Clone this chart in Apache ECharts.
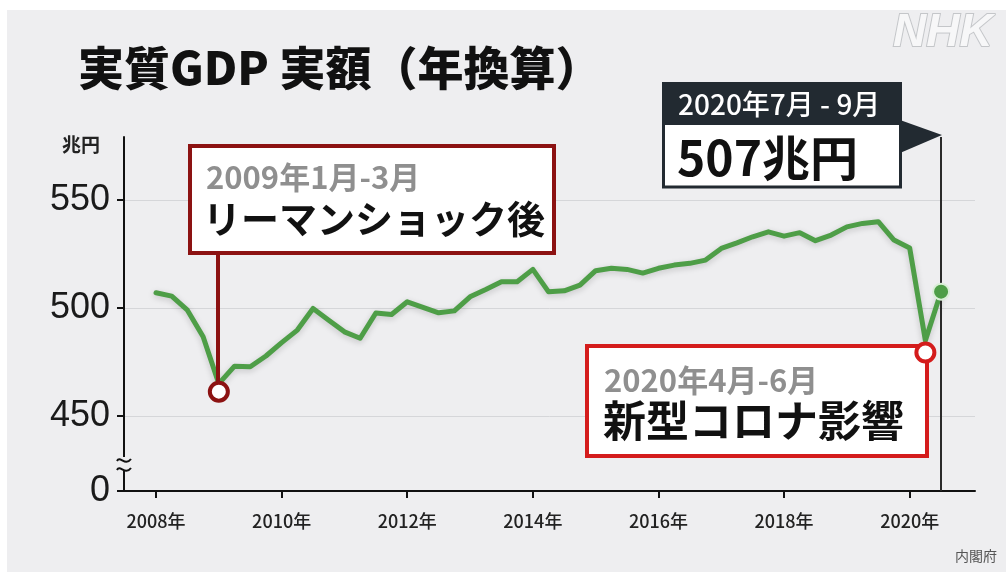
<!DOCTYPE html>
<html>
<head>
<meta charset="utf-8">
<script src="https://cdn.jsdelivr.net/npm/echarts@6.0.0/dist/echarts.min.js"></script>
<style>
html, body { margin: 0; padding: 0; background: #fff; }
#main { width: 1006px; height: 572px; }
</style>
</head>
<body>
<div id="main"></div>
<script>
// 四半期（年換算・実質GDP 兆円）
var quarters = [
    '2008Q1','2008Q2','2008Q3','2008Q4',
    '2009Q1','2009Q2','2009Q3','2009Q4',
    '2010Q1','2010Q2','2010Q3','2010Q4',
    '2011Q1','2011Q2','2011Q3','2011Q4',
    '2012Q1','2012Q2','2012Q3','2012Q4',
    '2013Q1','2013Q2','2013Q3','2013Q4',
    '2014Q1','2014Q2','2014Q3','2014Q4',
    '2015Q1','2015Q2','2015Q3','2015Q4',
    '2016Q1','2016Q2','2016Q3','2016Q4',
    '2017Q1','2017Q2','2017Q3','2017Q4',
    '2018Q1','2018Q2','2018Q3','2018Q4',
    '2019Q1','2019Q2','2019Q3','2019Q4',
    '2020Q1','2020Q2','2020Q3'
];
var gdp = [
    507.1, 505.5, 499.0, 486.7,
    465.0, 473.1, 472.8, 477.8,
    484.0, 489.8, 499.8, 494.4,
    489.0, 486.0, 497.7, 497.0,
    502.9, 500.3, 497.8, 498.7,
    505.2, 508.6, 512.2, 512.2,
    517.9, 507.5, 508.0, 510.6,
    517.3, 518.4, 517.9, 516.2,
    518.4, 519.9, 520.7, 522.2,
    527.6, 530.2, 533.0, 535.3,
    533.3, 534.9, 531.2, 533.8,
    537.6, 539.2, 540.0, 531.5,
    527.8, 485.0, 507.6
];
var yearTicks = [2008, 2010, 2012, 2014, 2016, 2018, 2020];
var valueTicks = [450, 500, 550];
var axisBottom = 415.3;   // 「0」を表示する位置（省略線の下）

var lehmanIdx = 4;   // 2009年1月-3月
var coronaIdx = 49;  // 2020年4月-6月
var lastIdx = 50;    // 2020年7月-9月

function qx(q) {
    var p = q.split('Q');
    return +p[0] + (p[1] - 1) / 4;
}

var points = quarters.map(function (q, i) { return [qx(q), gdp[i]]; });

var CJK = '"Noto Sans CJK JP", sans-serif';
var BG = '#eeeef0';

var myChart = echarts.init(document.getElementById('main'));

var option = {
    backgroundColor: BG,
    animation: false,
    grid: { left: 124, right: 31, top: 137, bottom: 81 },
    xAxis: {
        type: 'value',
        min: 2007.49,
        max: 2021.04,
        axisLine: { lineStyle: { color: '#111', width: 2 } },
        axisTick: { customValues: yearTicks, length: 7, lineStyle: { color: '#111', width: 2 } },
        axisLabel: {
            customValues: yearTicks,
            margin: 21,
            fontSize: 18,
            fontWeight: 500,
            color: '#222',
            fontFamily: CJK,
            formatter: function (v) { return v + '年'; }
        },
        splitLine: { show: false }
    },
    yAxis: {
        type: 'value',
        min: axisBottom,
        max: 579.2,
        axisLine: { show: true, lineStyle: { color: '#111', width: 2 } },
        axisTick: { show: true, customValues: [axisBottom].concat(valueTicks), length: 7, lineStyle: { color: '#111', width: 2 } },
        axisLabel: {
            customValues: [axisBottom].concat(valueTicks),
            margin: 14,
            fontSize: 36,
            color: '#1a1a1a',
            fontFamily: '"Liberation Sans", sans-serif',
            formatter: function (v) { return v < 420 ? '0' : v; }
        },
        splitLine: { show: true, lineStyle: { color: '#d5d6d9', width: 1 } }
    },
    series: [{
        type: 'line',
        data: points,
        symbol: 'none',
        z: 3,
        lineStyle: {
            color: '#4e9e47',
            width: 5,
            cap: 'round',
            join: 'round',
            shadowColor: 'rgba(0,0,0,0.18)',
            shadowBlur: 6,
            shadowOffsetY: 2
        },
        markLine: {
            silent: true,
            symbol: 'none',
            label: { show: false },
            lineStyle: { color: '#2a2a2a', width: 2, type: 'solid' },
            data: [{ xAxis: points[lastIdx][0] }]
        },
        markPoint: {
            silent: true,
            symbol: 'circle',
            label: { show: false },
            data: [
                { coord: points[lehmanIdx], symbolSize: 18, symbolOffset: [0, 8],
                  itemStyle: { color: '#fff', borderColor: '#8c1212', borderWidth: 4 } },
                { coord: points[coronaIdx], symbolSize: 18, symbolOffset: [0, 12],
                  itemStyle: { color: '#fff', borderColor: '#d41c1c', borderWidth: 4 } },
                { coord: points[lastIdx], symbolSize: 16,
                  itemStyle: { color: '#4e9e47', borderColor: '#d9efd6', borderWidth: 2 } }
            ]
        }
    }],
    graphic: [
        // 白い外枠
        { type: 'rect', shape: { x: 0, y: 0, width: 1006, height: 10 }, style: { fill: '#fff' } },
        { type: 'rect', shape: { x: 0, y: 0, width: 7, height: 572 }, style: { fill: '#fff' } },
        // タイトル
        { type: 'text', style: { text: '実質GDP 実額（年換算）', x: 78, y: 68, verticalAlign: 'middle',
            font: '900 46px ' + CJK, fill: '#111' } },
        // NHK
        { type: 'text', style: { text: 'NHK', x: 893, y: 33, verticalAlign: 'middle',
            font: 'italic bold 46px "Liberation Sans", sans-serif', fill: '#f7f7f8', stroke: '#c4c6c9', lineWidth: 2 } },
        // 単位
        { type: 'text', style: { text: '兆円', x: 62, y: 145, verticalAlign: 'middle',
            font: 'bold 19px ' + CJK, fill: '#222' } },
        // 省略記号
        { type: 'rect', z: 10, shape: { x: 118, y: 457, width: 14, height: 14 }, style: { fill: BG } },
        { type: 'bezierCurve', z: 11,
            shape: { x1: 117, y1: 461, cpx1: 120, cpy1: 455, cpx2: 125, cpy2: 467, x2: 131, y2: 459 },
            style: { fill: null, stroke: '#111', lineWidth: 2 } },
        { type: 'bezierCurve', z: 11,
            shape: { x1: 117, y1: 470, cpx1: 120, cpy1: 464, cpx2: 125, cpy2: 476, x2: 131, y2: 468 },
            style: { fill: null, stroke: '#111', lineWidth: 2 } },
        // リーマンショック
        { type: 'line', z: 5, shape: { x1: 218, y1: 253, x2: 218, y2: 382 },
            style: { stroke: '#8c1212', lineWidth: 4 } },
        { type: 'rect', z: 5, shape: { x: 190, y: 146, width: 364, height: 107 },
            style: { fill: '#fff', stroke: '#8c1212', lineWidth: 4 } },
        { type: 'text', z: 6, style: { text: '2009年1月-3月', x: 206, y: 177, verticalAlign: 'middle',
            font: 'bold 31px ' + CJK, fill: '#8f8f8f' } },
        { type: 'text', z: 6, style: { text: 'リーマンショック後', x: 203, y: 219, verticalAlign: 'middle',
            font: 'bold 38px ' + CJK, fill: '#111' } },
        // 新型コロナ
        { type: 'rect', z: 5, shape: { x: 587, y: 346, width: 340, height: 110 },
            style: { fill: '#fff', stroke: '#d41c1c', lineWidth: 4 } },
        { type: 'text', z: 6, style: { text: '2020年4月-6月', x: 604, y: 380, verticalAlign: 'middle',
            font: 'bold 31px ' + CJK, fill: '#8f8f8f' } },
        { type: 'text', z: 6, style: { text: '新型コロナ影響', x: 603, y: 421, verticalAlign: 'middle',
            font: 'bold 43px ' + CJK, fill: '#111' } },
        // 2020年7月-9月
        { type: 'polygon', z: 5, shape: { points: [[900, 120], [900, 153], [942, 135]] },
            style: { fill: '#222a31' } },
        { type: 'rect', z: 5, shape: { x: 663.5, y: 123, width: 237, height: 64 },
            style: { fill: '#fff', stroke: '#222a31', lineWidth: 3 } },
        { type: 'rect', z: 6, shape: { x: 662, y: 82, width: 240, height: 43 },
            style: { fill: '#222a31' } },
        { type: 'text', z: 7, style: { text: '2020年7月 - 9月', x: 678, y: 104, verticalAlign: 'middle',
            font: '500 28px ' + CJK, fill: '#fff' } },
        { type: 'text', z: 7, style: { text: '507兆円', x: 677, y: 158, verticalAlign: 'middle',
            font: 'bold 48px ' + CJK, fill: '#111' } },
        // 出典
        { type: 'text', style: { text: '内閣府', x: 955, y: 556, verticalAlign: 'middle',
            font: '14px ' + CJK, fill: '#555' } }
    ]
};
myChart.setOption(option);
</script>
</body>
</html>
